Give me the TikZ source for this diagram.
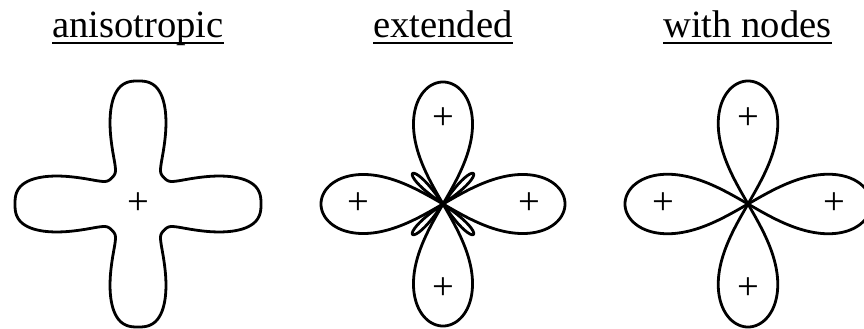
\documentclass[tikz,border=0pt]{standalone}
\usepackage{fontspec}
\setmainfont{Liberation Serif}
\begin{document}
\begin{tikzpicture}[x=1pt,y=1pt,
  curve/.style={line width=2.8pt, line join=round},
  title/.style={font=\fontsize{38.6}{40}\selectfont, inner sep=0pt, anchor=base},
  sign/.style={font=\fontsize{38.6}{40}\selectfont, inner sep=0pt},
  uline/.style={line width=1.6pt}]
\useasboundingbox (0,0) rectangle (864,329);
% titles
\node[title] (t1) at (138,291.3) {anisotropic};
\node[title] (t2) at (443,291.3) {extended};
\node[title] (t3) at (747.5,291.3) {with nodes};
\foreach \t in {t1,t2,t3}
  \draw[uline] ([yshift=-5.6pt]\t.base west) -- ([yshift=-5.6pt]\t.base east);
% anisotropic
\begin{scope}[shift={(138,125)}]
  \draw[curve] plot[domain=0:360, samples=721]
    (\x:{123*(0.3+0.7*exp(-((abs(mod(\x+405,90)-45)/23)^3)))}) -- cycle;
  \node[sign] (p1) at (0,0) {+};
\end{scope}
% extended
\begin{scope}[shift={(443,125)}]
  \foreach \a in {0,90,180,270}
    \draw[curve] plot[domain=-30:30, samples=241]
      ({\a+\x}:{122*sqrt(max(0,cos(3*\x)))}) -- cycle;
  \foreach \a in {45,135,225,315}
    \draw[curve] plot[domain=-9.5:9.5, samples=77]
      ({\a+\x}:{43*sqrt(max(0,cos(90/9.5*\x)))}) -- cycle;
  \node[sign] (e1) at (0,85) {+};
  \node[sign] (e2) at (-85,0) {+};
  \node[sign] (e3) at (86,0) {+};
  \node[sign] (e4) at (0,-85) {+};
\end{scope}
% with nodes
\begin{scope}[shift={(748,125)}]
  \foreach \a in {0,90,180,270}
    \draw[curve] plot[domain=-30:30, samples=241]
      ({\a+\x}:{123*sqrt(max(0,cos(3*\x)))}) -- cycle;
  \node[sign] (n1) at (0,85) {+};
  \node[sign] (n2) at (-85,0) {+};
  \node[sign] (n3) at (86,0) {+};
  \node[sign] (n4) at (0,-85) {+};
\end{scope}
\end{tikzpicture}
\end{document}
